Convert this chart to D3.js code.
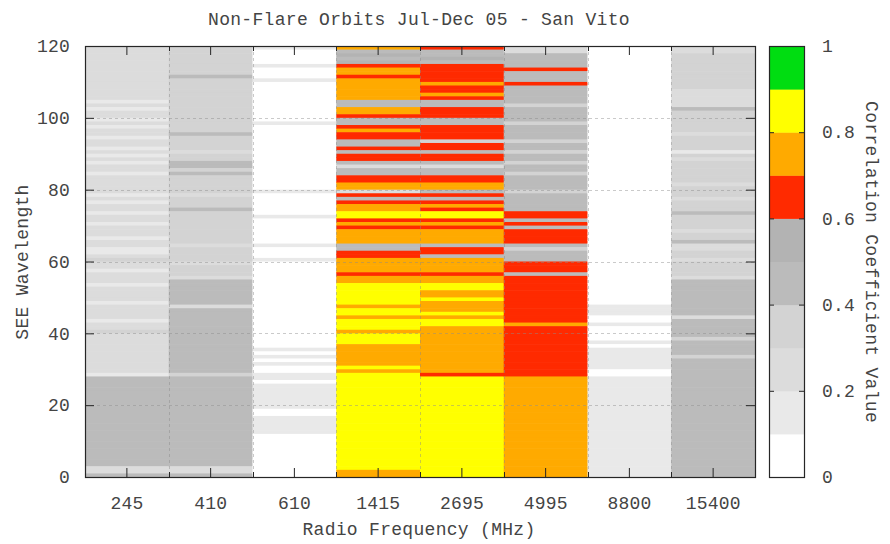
<!DOCTYPE html>
<html><head><meta charset="utf-8">
<script src="https://cdn.jsdelivr.net/npm/d3@7"></script>
<style>
html,body{margin:0;padding:0;background:#fff;}
svg{display:block;font-family:"Liberation Mono","DejaVu Sans Mono",monospace;}
</style></head><body>
<svg id="chart" width="890" height="544"></svg>
<script>
const title = "Non-Flare Orbits Jul-Dec 05 - San Vito";
const xLabel = "Radio Frequency (MHz)";
const yLabel = "SEE Wavelength";
const cbLabel = "Correlation Coefficient Value";
const frequencies = ["245","410","610","1415","2695","4995","8800","15400"];
const yTicks = [0,20,40,60,80,100,120];
const cbTicks = [0,0.2,0.4,0.6,0.8,1];
const cbTickLabels = ["0","0.2","0.4","0.6","0.8","1"];
const levelBreaks = [0.1,0.2,0.3,0.4,0.5,0.6,0.7,0.8,0.9];
const levelColors = ["#ffffff","#e9e9e9","#dcdcdc","#d3d3d3","#bbbbbb","#b3b3b3","#ff2a00","#ffaa00","#ffff00","#00dd11"];

// rows listed from the top of the chart (wavelength bin 119-120) down to the bottom (0-1)
const rowStarts = d3.range(119, -1, -1);

const corr245 = [
.25,.25,.25,.25,.25,.25,.25,.25,.25,.25,
.25,.25,.25,.25,.25,.15,.25,.15,.25,.25,
.15,.25,.15,.25,.25,.15,.25,.25,.15,.25,
.15,.25,.15,.25,.25,.15,.25,.25,.25,.25,
.25,.15,.25,.15,.25,.25,.15,.25,.25,.15,
.25,.25,.25,.15,.25,.25,.15,.15,.25,.35,
.25,.25,.15,.25,.25,.25,.15,.25,.25,.25,
.25,.15,.25,.25,.25,.25,.15,.25,.25,.35,
.25,.25,.25,.25,.25,.25,.25,.25,.25,.25,
.25,.15,.45,.45,.45,.45,.45,.45,.45,.45,
.45,.45,.45,.45,.45,.45,.45,.45,.45,.45,
.45,.45,.45,.45,.45,.45,.45,.25,.25,.45];

const corr410 = [
.35,.35,.35,.35,.35,.35,.35,.35,.45,.35,
.35,.35,.35,.35,.35,.35,.35,.35,.35,.35,
.35,.35,.35,.35,.45,.35,.35,.35,.35,.25,
.35,.35,.45,.45,.35,.45,.35,.35,.35,.35,
.35,.25,.35,.35,.35,.45,.35,.35,.35,.35,
.35,.35,.35,.35,.35,.25,.35,.35,.35,.35,
.25,.35,.35,.35,.25,.45,.45,.45,.45,.45,
.45,.45,.25,.45,.45,.45,.45,.45,.45,.45,
.45,.45,.45,.45,.45,.45,.45,.45,.45,.45,
.45,.35,.45,.45,.45,.45,.45,.45,.45,.45,
.45,.45,.45,.45,.45,.45,.45,.45,.45,.45,
.45,.45,.45,.45,.45,.45,.45,.25,.25,.45];

const corr610 = [
.15,.05,.05,.05,.05,.15,.05,.05,.05,.15,
.05,.05,.05,.05,.05,.05,.05,.05,.05,.05,
.05,.15,.05,.05,.05,.05,.05,.05,.05,.05,
.05,.05,.05,.05,.05,.05,.05,.05,.05,.05,
.15,.05,.05,.05,.05,.05,.05,.15,.05,.05,
.05,.05,.05,.05,.05,.15,.05,.05,.05,.15,
.05,.05,.05,.05,.05,.05,.05,.05,.05,.05,
.05,.05,.05,.05,.05,.05,.05,.05,.05,.05,
.05,.05,.05,.05,.15,.05,.15,.05,.15,.05,
.05,.15,.15,.05,.15,.15,.15,.15,.15,.15,
.15,.05,.05,.15,.15,.15,.15,.15,.05,.05,
.05,.05,.05,.05,.05,.05,.05,.05,.05,.05];

const corr1415 = [
.75,.45,.55,.45,.55,.65,.75,.75,.65,.75,
.75,.75,.75,.75,.75,.45,.45,.75,.75,.65,
.45,.45,.65,.75,.65,.65,.45,.45,.65,.45,
.65,.65,.45,.25,.45,.45,.65,.65,.75,.75,
.25,.65,.45,.65,.75,.75,.85,.85,.65,.75,
.65,.75,.75,.75,.75,.45,.45,.65,.65,.75,
.75,.75,.75,.65,.75,.75,.85,.85,.85,.85,
.85,.85,.75,.85,.85,.75,.85,.85,.85,.75,
.85,.85,.85,.75,.75,.75,.75,.75,.75,.85,
.75,.85,.85,.85,.85,.85,.85,.85,.85,.85,
.85,.85,.85,.85,.85,.85,.85,.85,.85,.85,
.85,.85,.85,.85,.85,.85,.85,.85,.75,.75];

const corr2695 = [
.65,.45,.45,.55,.45,.65,.65,.65,.65,.65,
.75,.65,.65,.75,.65,.45,.45,.65,.65,.65,
.45,.45,.65,.65,.65,.65,.35,.65,.65,.45,
.65,.65,.45,.25,.45,.45,.65,.65,.75,.75,
.45,.65,.45,.65,.75,.65,.85,.85,.65,.75,
.65,.75,.75,.75,.75,.45,.65,.65,.45,.75,
.75,.75,.75,.65,.75,.75,.85,.85,.75,.75,
.85,.75,.75,.75,.85,.75,.85,.85,.75,.75,
.75,.75,.75,.75,.75,.75,.75,.75,.75,.75,
.75,.65,.85,.85,.85,.85,.85,.85,.85,.85,
.85,.85,.85,.85,.85,.85,.85,.85,.85,.85,
.85,.85,.85,.85,.85,.85,.85,.85,.85,.85];

const corr4995 = [
.25,.25,.45,.45,.45,.45,.65,.45,.45,.45,
.65,.45,.45,.45,.45,.45,.35,.45,.45,.45,
.45,.35,.45,.45,.45,.45,.35,.45,.45,.35,
.45,.45,.35,.45,.45,.35,.45,.45,.45,.45,
.35,.45,.45,.45,.45,.45,.65,.65,.45,.65,
.45,.65,.65,.65,.65,.45,.35,.45,.45,.45,
.65,.65,.65,.45,.65,.65,.65,.65,.65,.65,
.65,.65,.65,.65,.65,.65,.65,.75,.65,.65,
.65,.65,.65,.65,.65,.65,.65,.65,.65,.65,
.65,.65,.75,.75,.75,.75,.75,.75,.75,.75,
.75,.75,.75,.75,.75,.75,.75,.75,.75,.75,
.75,.75,.75,.75,.75,.75,.75,.75,.75,.75];

const corr8800 = [
.05,.05,.05,.05,.05,.05,.05,.05,.05,.05,
.05,.05,.05,.05,.05,.05,.05,.05,.05,.05,
.05,.05,.05,.05,.05,.05,.05,.05,.05,.05,
.05,.05,.05,.05,.05,.05,.05,.05,.05,.05,
.05,.05,.05,.05,.05,.05,.05,.05,.05,.05,
.05,.05,.05,.05,.05,.05,.05,.05,.05,.05,
.05,.05,.05,.05,.05,.05,.05,.05,.05,.05,
.05,.05,.15,.15,.15,.05,.05,.15,.05,.05,
.05,.05,.15,.05,.15,.15,.15,.15,.15,.15,
.05,.05,.15,.15,.15,.15,.15,.15,.15,.15,
.15,.15,.15,.15,.15,.15,.15,.15,.15,.15,
.15,.15,.15,.15,.15,.15,.15,.15,.15,.15];

const corr15400 = [
.25,.25,.35,.35,.35,.35,.35,.35,.35,.35,
.35,.35,.25,.25,.25,.25,.25,.45,.35,.35,
.35,.35,.35,.35,.25,.35,.35,.35,.35,.15,
.35,.25,.35,.35,.35,.35,.35,.35,.25,.35,
.35,.35,.25,.35,.35,.35,.45,.35,.35,.35,
.35,.25,.35,.35,.45,.25,.25,.35,.35,.25,
.35,.35,.35,.35,.25,.45,.45,.45,.45,.45,
.45,.45,.45,.45,.45,.25,.45,.45,.45,.45,
.45,.35,.45,.45,.45,.45,.35,.45,.45,.45,
.45,.45,.45,.45,.45,.45,.45,.45,.45,.45,
.45,.45,.45,.45,.45,.45,.45,.45,.45,.45,
.45,.45,.45,.45,.45,.45,.45,.45,.45,.45];

const columns = {"245":corr245,"410":corr410,"610":corr610,"1415":corr1415,
  "2695":corr2695,"4995":corr4995,"8800":corr8800,"15400":corr15400};

const svg = d3.select("#chart");
const plot = {left:85, right:755, top:46, bottom:477};
const x = d3.scaleBand().domain(frequencies).range([plot.left, plot.right]);
const y = d3.scaleLinear().domain([0,120]).range([plot.bottom, plot.top]);
const color = d3.scaleThreshold().domain(levelBreaks).range(levelColors);
const ink = "#262626", txt = "#444444";
const FONT = '"Liberation Mono","DejaVu Sans Mono",monospace';

const cells = [];
frequencies.forEach(f => columns[f].forEach((v,i) => cells.push({f, w: rowStarts[i], v})));
svg.append("g").selectAll("rect").data(cells).join("rect")
  .attr("x", d => x(d.f))
  .attr("width", x.bandwidth() + 0.6)
  .attr("y", d => y(d.w + 1))
  .attr("height", d => y(d.w) - y(d.w + 1) + 0.6)
  .attr("fill", d => color(d.v));

// grid
const grid = svg.append("g").attr("stroke","#8a8a8a").attr("stroke-opacity",0.45)
  .attr("stroke-dasharray","3,3").attr("stroke-width",1);
yTicks.filter(t => t > 0 && t < 120).forEach(t =>
  grid.append("line").attr("x1",plot.left).attr("x2",plot.right)
    .attr("y1",Math.round(y(t))+0.5).attr("y2",Math.round(y(t))+0.5));
frequencies.slice(1).forEach(f =>
  grid.append("line").attr("x1",Math.round(x(f))+0.5).attr("x2",Math.round(x(f))+0.5)
    .attr("y1",plot.top).attr("y2",plot.bottom));

function styleAxis(g){
  g.select(".domain").remove();
  g.selectAll(".tick line").attr("stroke", ink);
  g.selectAll(".tick text").attr("fill", txt).attr("font-size","18px")
    .attr("font-family", FONT).attr("letter-spacing","0.2px");
}
svg.append("g").attr("transform",`translate(${plot.left},0)`)
  .call(d3.axisLeft(y).tickValues(yTicks).tickSize(-9).tickPadding(15)).call(styleAxis);
svg.append("g").attr("transform",`translate(${plot.right},0)`)
  .call(d3.axisRight(y).tickValues(yTicks).tickSize(-9).tickFormat("")).call(styleAxis);
svg.append("g").attr("transform",`translate(0,${plot.bottom})`)
  .call(d3.axisBottom(x).tickSize(-9).tickPadding(19)).call(styleAxis);
svg.append("g").attr("transform",`translate(0,${plot.top})`)
  .call(d3.axisTop(x).tickSize(-9).tickFormat("")).call(styleAxis);

// minor ticks at column boundaries
const minor = svg.append("g").attr("stroke", ink);
frequencies.slice(1).forEach(f => {
  const xx = Math.round(x(f)) + 0.5;
  minor.append("line").attr("x1",xx).attr("x2",xx).attr("y1",plot.bottom).attr("y2",plot.bottom-5);
  minor.append("line").attr("x1",xx).attr("x2",xx).attr("y1",plot.top).attr("y2",plot.top+5);
});

svg.append("rect").attr("x",plot.left+0.5).attr("y",plot.top+0.5)
  .attr("width",plot.right-plot.left).attr("height",plot.bottom-plot.top)
  .attr("fill","none").attr("stroke",ink).attr("stroke-width",1.2);

// colour bar
const cb = {left:769, right:804};
const cbY = d3.scaleLinear().domain([0,1]).range([plot.bottom, plot.top]);
const bounds = [0, ...levelBreaks, 1];
svg.append("g").selectAll("rect").data(levelColors).join("rect")
  .attr("x", cb.left).attr("width", cb.right - cb.left)
  .attr("y", (c,i) => cbY(bounds[i+1])).attr("height", (c,i) => cbY(bounds[i]) - cbY(bounds[i+1]) + 0.5)
  .attr("fill", c => c);
svg.append("g").attr("transform",`translate(${cb.left},0)`)
  .call(d3.axisLeft(cbY).tickValues(cbTicks).tickSize(-5).tickFormat("")).call(styleAxis);
svg.append("g").attr("transform",`translate(${cb.right},0)`)
  .call(d3.axisRight(cbY).tickValues(cbTicks).tickSize(-5).tickPadding(18)
    .tickFormat((d,i) => cbTickLabels[i])).call(styleAxis);
svg.append("rect").attr("x",cb.left+0.5).attr("y",plot.top+0.5)
  .attr("width",cb.right-cb.left).attr("height",plot.bottom-plot.top)
  .attr("fill","none").attr("stroke",ink).attr("stroke-width",1.2);

// labels
function label(str, tx, ty, rot){
  svg.append("text").text(str)
    .attr("transform",`translate(${tx},${ty}) rotate(${rot})`)
    .attr("dy","0.35em").attr("letter-spacing","0.3px")
    .attr("font-size","18px").attr("fill",txt).attr("text-anchor","middle")
    .attr("font-family", FONT);
}
label(title, 419, 19, 0);
label(xLabel, 419, 529, 0);
label(yLabel, 22, 262, -90);
label(cbLabel, 872, 262, 90);
</script>
</body></html>
